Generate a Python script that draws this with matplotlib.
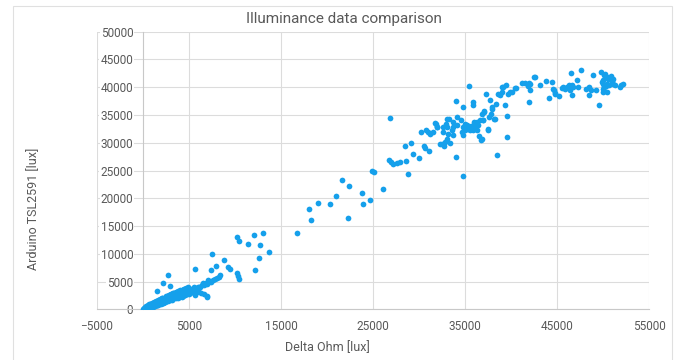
import matplotlib
matplotlib.use('Agg')
from matplotlib import pyplot as plt
from matplotlib.patches import Rectangle

plt.rcParams['font.family'] = ['Roboto', 'DejaVu Sans']

# dense low-light cluster (Delta Ohm, TSL2591)
low_x = [50, 100, 150, 200, 250, 300, 350, 400, 450, 500, 550, 600, 650, 700, 750, 800,
         850, 900, 950, 1000, 1050, 1100, 1150, 1200, 1250, 1300, 1350, 1400, 1450, 1500,
         1550, 1600, 1650, 1700, 1750, 1800, 1850, 1900, 1950, 2000, 2050, 2100, 2150, 2200,
         2250, 2300, 2350, 2400, 2450, 2500, 2550, 2600, 2650, 2700, 2800, 2900, 3000, 3100,
         3200, 3300, 3400, 3500, 3600, 3700, 3800, 3900, 4000, 4100, 4200, 4300, 4400, 4500,
         4600, 4700, 4800, 4900, 5000, 5200, 5400, 5600, 5800, 6000, 6200, 6400, 6600, 6800,
         7000, 7200, 7400, 7600, 7800, 8000, 8200, 8400,
         300, 500, 700, 900, 1100, 1300, 1500, 1700, 1900, 2100, 2300, 2500, 2700, 3000,
         3200, 3500, 3800, 4000, 4200, 4500, 5000, 1200, 1600, 2000, 2400, 2800, 3300, 3600,
         4300, 600, 800, 1000, 150, 250, 400, 1800, 2200, 2600, 3400, 4800, 5500, 6000, 6500,
         7100, 5200, 4600, 5600, 5900, 6300, 6650, 6900, 7000,
         450, 650, 850, 1050, 1250, 1450, 1650, 1850, 2050, 2250, 2450, 2650, 2850, 3050,
         3250, 3450, 3650, 3850, 4050, 4250, 4450, 4650, 4850, 1350, 1750, 2150, 2550, 2950,
         3350, 3750, 4150, 4550, 4950, 5300, 5700, 6100, 750, 1150, 1550, 1950, 2350, 2750,
         3150, 3550, 3950, 4350, 4750, 5150, 5450, 5850]
low_y = [30, 80, 60, 150, 120, 220, 180, 300, 260, 380, 320, 450, 400, 540, 480, 600,
         520, 700, 640, 780, 680, 850, 760, 930, 820, 1000, 900, 1080, 980, 1150,
         1050, 1250, 1120, 1320, 1200, 1400, 1280, 1480, 1350, 1550, 1420, 1650, 1500, 1720,
         1580, 1800, 1650, 1880, 1720, 1950, 1800, 2050, 1880, 2120, 2000, 2250, 2100, 2350,
         2200, 2450, 2300, 2550, 2400, 2650, 2500, 2750, 2600, 2900, 2750, 3000, 2850, 3150,
         3000, 3300, 3150, 3450, 3300, 3600, 3500, 3800, 3700, 4100, 4000, 4400, 4300, 4700,
         4600, 5000, 4900, 5300, 5400, 5700, 5900, 6200,
         600, 700, 900, 400, 500, 1400, 700, 1700, 1000, 2100, 1300, 2400, 1600, 2700,
         1800, 3000, 2000, 3300, 2300, 3600, 2700, 1300, 800, 1900, 1400, 2500, 2900, 3100,
         3500, 200, 900, 1100, 300, 400, 100, 1700, 1200, 2300, 2000, 3700, 4000, 3500, 4700,
         5200, 3100, 2600, 2500, 3200, 3000, 2750, 2400, 2300,
         650, 800, 1000, 1150, 1300, 1450, 1600, 1800, 1950, 2100, 2250, 2400, 2550, 2700,
         2850, 3000, 3150, 3250, 3400, 3550, 3700, 3850, 4000, 650, 900, 1150, 1450, 1750,
         2050, 2300, 2500, 2700, 2950, 3350, 3650, 3950, 250, 550, 850, 1050, 1300, 1500,
         1650, 1950, 2200, 2450, 2700, 2900, 3200, 3450]

# scattered points 1000 - 30000 lux
mid_x = [10200, 10380, 11360, 12010, 13020, 12660, 13640, 12550, 12120, 7480, 8750, 5670,
         7920, 7370, 9190, 9480, 10200, 10270, 10380, 2670, 2160, 2890, 1510,
         16700, 18290, 18070, 19020, 20320, 20970, 21620, 22380, 22240, 23790, 23870, 24660,
         24840, 25130, 26040, 26720, 26940, 27190, 27550, 27910, 28530, 28780, 29290, 29970,
         28460, 29070, 30520, 30660, 31030, 30190, 30730, 31170, 31740, 31890, 32250, 26830]
mid_y = [13040, 12320, 11840, 13460, 13760, 11660, 10340, 9320, 7160, 9920, 8840, 7340,
         7820, 7040, 7640, 7340, 6560, 5960, 5540, 6140, 4760, 4160, 3320,
         13760, 16040, 18140, 19220, 19040, 20480, 23300, 22220, 16520, 20960, 18980, 19640,
         24860, 24680, 21740, 26840, 26480, 26180, 26360, 26600, 26720, 24320, 27920, 27320,
         29420, 30020, 29360, 29000, 28460, 31940, 32360, 31640, 33560, 32840, 29840, 34450]

# bright region 30000 - 42000 lux
high_x = [35440, 33990, 34790, 35800, 35870, 37250, 37680, 37860, 39130, 39420, 38770, 38950,
          39670, 40040, 40470, 41120, 41850, 42030, 41950, 42570, 41880, 39310, 38260, 37750,
          37610, 37460, 36960, 36780, 37030, 36600, 36230, 36410, 36050, 35870, 36310, 36520,
          36700, 35510, 35150, 35260, 35000, 34710, 34970, 34610, 34790, 34500, 34130, 34060,
          33700, 33630, 33520, 33270, 32980, 32900, 33050, 32610, 32540, 33160, 33700, 32980,
          32800, 32430, 32690, 33340, 31820, 31890, 31530, 30990, 33990, 38480, 39560, 39490,
          34710, 35580, 35940,
          36770, 37490, 36880, 37020, 38110, 37850, 38320, 38580, 38940, 39850, 40390, 41530]
high_y = [40280, 37580, 36440, 37400, 36740, 38780, 37640, 36440, 40040, 40460, 38540, 39140,
          38840, 39140, 39860, 40760, 40160, 39440, 40820, 41840, 37340, 36860, 34280, 35240,
          34640, 32240, 34160, 35240, 35720, 34040, 33740, 33140, 32840, 32240, 32240, 31160,
          30440, 32240, 33140, 32540, 33440, 32840, 32240, 31940, 31340, 34040, 34640, 33140,
          33740, 32840, 32240, 34340, 34340, 33440, 32840, 32840, 31940, 31640, 31340, 30740,
          30140, 29840, 29360, 29960, 33440, 32840, 31940, 31940, 27440, 27860, 31040, 34760,
          23960, 32960, 33740,
          30740, 32540, 34160, 35540, 34340, 36140, 37040, 38840, 40040, 39140, 39920, 40820]

# saturation plateau above 42000 lux
top_x = [42450, 42020, 43110, 43760, 44370, 44500, 44670, 44780, 44120, 44740, 45210,
         45460, 45640, 45820, 46000, 46290, 46540, 46650, 46360, 46540, 46440, 47520, 47090,
         47270, 48110, 48400, 48650, 48470, 48830, 49190, 49730, 49560, 50090, 49910, 49980,
         49910, 50060, 50170, 50350, 50530, 50710, 50890, 51070, 51250, 50420, 50640, 50270,
         49980, 49800, 50780, 51000, 50350, 51870, 52080, 51800]
top_y = [41840, 40640, 40460, 41180, 40940, 39740, 39440, 39020, 38060, 38840, 38420,
         39860, 40040, 39740, 39980, 40340, 40460, 40040, 39500, 38660, 42620, 43040, 41240,
         40040, 39740, 40040, 39440, 38540, 42260, 39440, 42740, 36740, 40040, 39740, 39140,
         41240, 42140, 42440, 41840, 41420, 41540, 41060, 40640, 40340, 40640, 40460, 40220,
         40640, 40940, 42020, 41420, 39140, 40340, 40640, 39980]

delta_ohm = low_x + mid_x + high_x + top_x
tsl2591 = low_y + mid_y + high_y + top_y

grey_txt = '#595959'

fig = plt.figure(figsize=(6.8, 3.6), dpi=100)
ax = fig.add_axes([0.1426, 0.1408, 0.8125, 0.7711])

ax.scatter(delta_ohm, tsl2591, s=17, color='#15a0eb', linewidths=0, zorder=3)

ax.set_xlim(-5000, 55000)
ax.set_ylim(0, 50000)
ax.set_xticks(range(-5000, 55001, 10000))
ax.set_yticks(range(0, 50001, 5000))
ax.grid(True, color='#dcdcdc', linewidth=0.8)
ax.set_axisbelow(True)

# excel style: vertical axis crosses at x = 0
for s in ['top', 'right']:
    ax.spines[s].set_visible(False)
ax.spines['left'].set_position(('data', 0))
ax.spines['left'].set_color('#c8c8c8')
ax.spines['bottom'].set_color('#c8c8c8')

ax.tick_params(axis='x', length=0, pad=7.5, labelsize=8.5, labelcolor=grey_txt)
ax.tick_params(axis='y', length=0, pad=7, labelsize=8.5, labelcolor=grey_txt)
for lab in ax.get_yticklabels():
    lab.set_bbox(dict(facecolor='white', edgecolor='none', pad=0.8))

fig.text(0.506, 0.947, 'Illuminance data comparison', ha='center', va='center',
         fontsize=11, color=grey_txt)
fig.text(0.482, 0.036, 'Delta Ohm [lux]', ha='center', va='center',
         fontsize=9, color=grey_txt)
fig.text(0.049, 0.419, 'Arduino TSL2591 [lux]', ha='center', va='center',
         rotation=90, fontsize=9, color=grey_txt)

# light chart-area border
fig.patches.append(Rectangle((13 / 680, -0.01), 659 / 680, 0.993, transform=fig.transFigure,
                             fill=False, edgecolor='#e0e0e0', linewidth=0.8))

fig.savefig('out.png', dpi=100)
